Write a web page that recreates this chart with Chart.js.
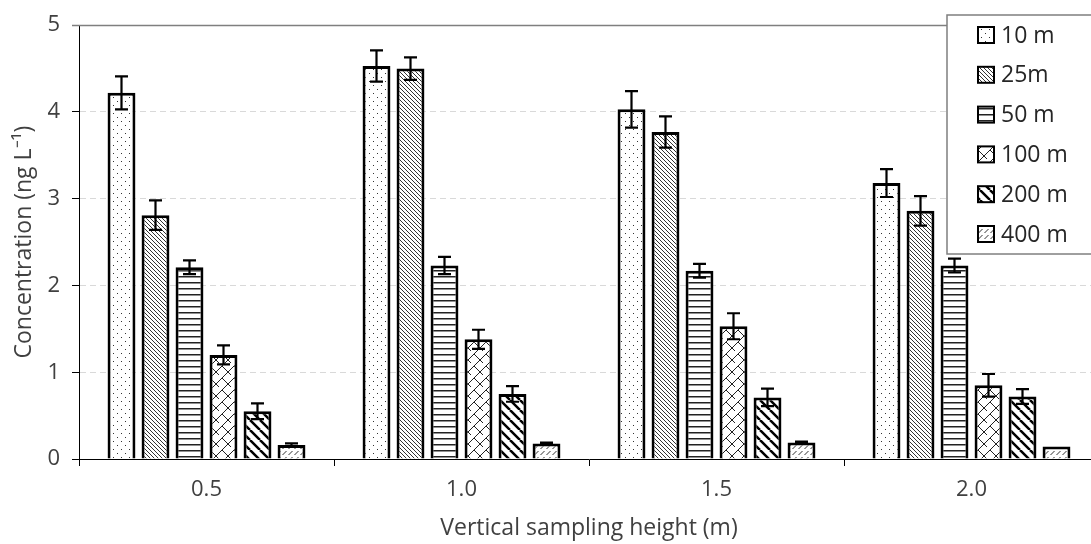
<!DOCTYPE html>
<html>
<head>
<meta charset="utf-8">
<script src="https://cdn.jsdelivr.net/npm/chart.js@4/dist/chart.umd.min.js"></script>
<style>
  html, body { margin: 0; padding: 0; background: #fff; overflow: hidden; }
  #wrap { width: 1099px; height: 544px; position: relative; }
</style>
</head>
<body>
<div id="wrap"><canvas id="chart_concentration"></canvas></div>
<script>
// categories and values
var heights = ['0.5', '1.0', '1.5', '2.0'];
var seriesLabels = ['10 m', '25m', '50 m', '100 m', '200 m', '400 m'];

var conc10 = [4.22, 4.53, 4.03, 3.18];
var conc25 = [2.81, 4.50, 3.77, 2.86];
var conc50 = [2.21, 2.23, 2.17, 2.23];
var conc100 = [1.20, 1.38, 1.53, 0.85];
var conc200 = [0.55, 0.75, 0.71, 0.72];
var conc400 = [0.16, 0.18, 0.19, 0.145];

var err10 = [0.19, 0.18, 0.21, 0.16];
var err25 = [0.17, 0.13, 0.18, 0.17];
var err50 = [0.08, 0.10, 0.08, 0.08];
var err100 = [0.11, 0.11, 0.15, 0.13];
var err200 = [0.09, 0.09, 0.10, 0.085];
var err400 = [0.02, 0.01, 0.01, 0.0];

var yTicks = [0, 1, 2, 3, 4, 5];

var canvasEl = document.getElementById('chart_concentration');
var mainCtx = canvasEl.getContext('2d');

function makePattern(size, draw) {
    var c = document.createElement('canvas');
    c.width = size; c.height = size;
    var g = c.getContext('2d');
    g.fillStyle = '#fff';
    g.fillRect(0, 0, size, size);
    g.strokeStyle = '#000';
    g.fillStyle = '#000';
    draw(g, size);
    return mainCtx.createPattern(c, 'repeat');
}

var patDots = makePattern(8, function (g) {
    g.fillStyle = '#333';
    g.fillRect(1, 1, 1, 1);
    g.fillRect(5, 5, 1, 1);
});
var patFineDiag = makePattern(4, function (g) {
    g.fillStyle = '#333';
    for (var i = 0; i < 4; i++) g.fillRect(i, i, 1, 1);
});
var patHoriz = makePattern(6, function (g) {
    g.fillStyle = '#222';
    g.fillRect(0, 0, 6, 1.5);
});
var patBrick = makePattern(12, function (g) {
    g.lineWidth = 1;
    g.strokeStyle = '#222';
    g.beginPath();
    // "/" lines
    g.moveTo(0, 12); g.lineTo(12, 0);
    g.moveTo(-6, 6); g.lineTo(6, -6);
    g.moveTo(6, 18); g.lineTo(18, 6);
    // short "\" connectors
    g.moveTo(0, 0); g.lineTo(3, 3);
    g.moveTo(12, 12); g.lineTo(9, 9);
    g.moveTo(6, 6); g.lineTo(9, 9);
    g.stroke();
});
var patWideDiag = makePattern(10, function (g) {
    g.lineWidth = 2.5;
    g.beginPath();
    for (var x0 = -10; x0 <= 10; x0 += 10) {
        g.moveTo(x0, 0); g.lineTo(x0 + 10, 10);
    }
    g.stroke();
});
var patDashSlash = makePattern(6, function (g) {
    g.lineWidth = 1;
    g.strokeStyle = '#333';
    g.beginPath();
    g.moveTo(0.5, 5); g.lineTo(4.5, 1);
    g.stroke();
});

var patterns = [patDots, patFineDiag, patHoriz, patBrick, patWideDiag, patDashSlash];
var seriesData = [conc10, conc25, conc50, conc100, conc200, conc400];
var seriesErr = [err10, err25, err50, err100, err200, err400];

var datasets = seriesLabels.map(function (lbl, i) {
    return {
        label: lbl,
        data: seriesData[i],
        backgroundColor: patterns[i],
        borderColor: '#000',
        borderWidth: 3,
        categoryPercentage: 0.8,
        barPercentage: 0.82
    };
});

var textColor = '#404040';
var fontFamily = "'Open Sans', sans-serif";

var chart_concentration = new Chart(canvasEl, {
    type: 'bar',
    data: {
        labels: heights,
        datasets: datasets
    },
    options: {
        animation: false,
        responsive: true,
        maintainAspectRatio: false,
        layout: {
            padding: { top: 18.5, left: 0, right: 0, bottom: 0 }
        },
        plugins: {
            legend: { display: false },
            tooltip: { enabled: false }
        },
        scales: {
            x: {
                type: 'category',
                grid: {
                    offset: true,
                    drawOnChartArea: false,
                    tickLength: 7,
                    tickColor: '#000'
                },
                border: { color: '#000', width: 1 },
                ticks: {
                    color: textColor,
                    font: { family: fontFamily, size: 22 },
                    padding: 11
                },
                title: {
                    display: true,
                    text: 'Vertical sampling height (m)',
                    color: textColor,
                    font: { family: fontFamily, size: 23 },
                    padding: { top: 0, bottom: 2 }
                },
                afterFit: function (scale) { scale.height = 85; }
            },
            y: {
                min: 0,
                max: 5,
                afterBuildTicks: function (scale) {
                    scale.ticks = yTicks.map(function (v) { return { value: v }; });
                },
                grid: {
                    color: '#d9d9d9',
                    lineWidth: 1,
                    tickLength: 7,
                    tickColor: '#000'
                },
                border: { color: '#000', width: 1, dash: [6, 4] },
                ticks: {
                    color: textColor,
                    font: { family: fontFamily, size: 22 },
                    padding: 12
                },
                title: {
                    display: true,
                    text: 'Concentration (ng L\u207B\u00B9)',
                    color: textColor,
                    font: { family: fontFamily, size: 23 },
                    padding: { top: 11, bottom: 0 }
                },
                afterFit: function (scale) { scale.width = 79; }
            }
        }
    },
    plugins: [{
        id: 'whiteBackground',
        beforeDraw: function (chart) {
            var ctx = chart.ctx;
            ctx.save();
            ctx.fillStyle = '#fff';
            ctx.fillRect(0, 0, chart.width, chart.height);
            ctx.restore();
        }
    }, {
        id: 'topLine',
        beforeDatasetsDraw: function (chart) {
            var ctx = chart.ctx;
            var y5 = Math.round(chart.scales.y.getPixelForValue(5)) + 0.5;
            ctx.save();
            ctx.strokeStyle = '#7f7f7f';
            ctx.lineWidth = 1.5;
            ctx.beginPath();
            ctx.moveTo(chart.chartArea.left - 7, y5);
            ctx.lineTo(chart.width, y5);
            ctx.stroke();
            ctx.restore();
        }
    }, {
        id: 'errorBars',
        afterDatasetsDraw: function (chart) {
            var ctx = chart.ctx;
            var yScale = chart.scales.y;
            ctx.save();
            ctx.strokeStyle = '#000';
            ctx.lineWidth = 2.2;
            chart.data.datasets.forEach(function (ds, di) {
                var meta = chart.getDatasetMeta(di);
                meta.data.forEach(function (bar, i) {
                    var e = seriesErr[di][i];
                    if (!e) return;
                    var v = ds.data[i];
                    var yTop = yScale.getPixelForValue(v + e);
                    var yBot = yScale.getPixelForValue(v - e);
                    var x = bar.x;
                    ctx.beginPath();
                    ctx.moveTo(x, yTop); ctx.lineTo(x, yBot);
                    ctx.moveTo(x - 6.5, yTop); ctx.lineTo(x + 6.5, yTop);
                    ctx.moveTo(x - 6.5, yBot); ctx.lineTo(x + 6.5, yBot);
                    ctx.stroke();
                });
            });
            ctx.restore();
        }
    }, {
        id: 'boxLegend',
        afterDraw: function (chart) {
            var ctx = chart.ctx;
            var left = 947, top = 15, bottom = 254;
            ctx.save();
            ctx.fillStyle = '#fff';
            ctx.fillRect(left, top, chart.width - left + 5, bottom - top);
            ctx.strokeStyle = '#7f7f7f';
            ctx.lineWidth = 1.5;
            ctx.strokeRect(left, top, chart.width - left + 5, bottom - top);
            ctx.font = '23px ' + fontFamily;
            ctx.textBaseline = 'middle';
            ctx.textAlign = 'left';
            chart.data.datasets.forEach(function (ds, i) {
                var cy = 35 + i * 39.8;
                ctx.fillStyle = ds.backgroundColor;
                ctx.fillRect(978, cy - 8, 16, 16);
                ctx.strokeStyle = '#000';
                ctx.lineWidth = 2;
                ctx.strokeRect(978, cy - 8, 16, 16);
                ctx.fillStyle = '#262626';
                ctx.fillText(ds.label, 1001, cy + 1);
            });
            ctx.restore();
        }
    }]
});
</script>
</body>
</html>
